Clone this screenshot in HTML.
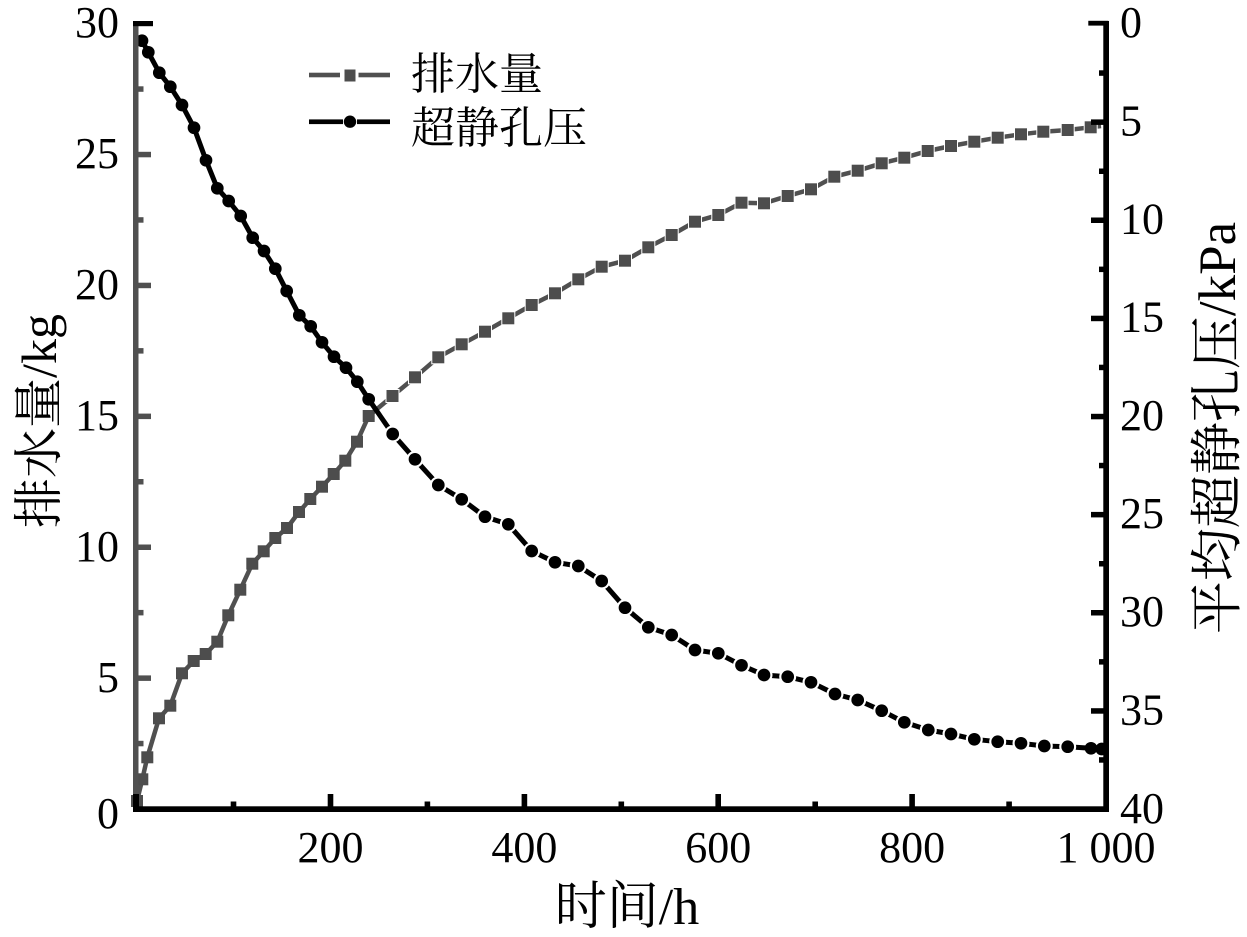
<!DOCTYPE html>
<html>
<head>
<meta charset="utf-8">
<style>
html,body{margin:0;padding:0;background:#fff;}
svg{display:block;}
text{font-family:"Liberation Serif","Noto Serif CJK SC",serif;fill:#000;}
</style>
</head>
<body>
<svg width="1247" height="937" viewBox="0 0 1247 937" xmlns="http://www.w3.org/2000/svg">
<rect width="1247" height="937" fill="#fff"/>

<!-- Gray series: 排水量 -->
<polyline fill="none" stroke="#505050" stroke-width="4.5" stroke-linejoin="round" points="136,806 137,801 142.3,779.3 147.3,757.3 159,718.3 170.3,705.7 182,673.3 193.7,661 205.7,654 217.3,641.7 228.3,615.3 240.3,589.7 252.3,563.7 263.7,551.3 275.3,538 287,528 299,512 310.3,499 322,486.7 333.7,474 345.3,460.7 357,441.7 368.7,416 392.5,396 415,377.3 438.3,357.3 461.7,344.3 485,331.7 508.3,318.3 531.7,305 555,293.3 578.3,279.3 601.7,266.7 625,260.7 648.3,247.3 671.7,235 695,221.7 718.3,215 741.5,202.7 764,203.3 787.7,196 811,189.3 834.3,176.7 857.7,170.7 881.7,163.3 904.3,157.7 927.7,151 951,146 974.3,141.7 997.7,137.7 1021,134.3 1043.3,131.7 1067.7,130 1090.7,127.3 1101,126"/>
<g fill="#fff">
<rect x="385.5" y="389" width="14" height="14"/><rect x="408" y="370.3" width="14" height="14"/><rect x="431.3" y="350.3" width="14" height="14"/><rect x="454.7" y="337.3" width="14" height="14"/><rect x="478" y="324.7" width="14" height="14"/><rect x="501.3" y="311.3" width="14" height="14"/><rect x="524.7" y="298" width="14" height="14"/><rect x="548" y="286.3" width="14" height="14"/><rect x="571.3" y="272.3" width="14" height="14"/><rect x="594.7" y="259.7" width="14" height="14"/><rect x="618" y="253.7" width="14" height="14"/><rect x="641.3" y="240.3" width="14" height="14"/><rect x="664.7" y="228" width="14" height="14"/><rect x="688" y="214.7" width="14" height="14"/><rect x="711.3" y="208" width="14" height="14"/><rect x="734.5" y="195.7" width="14" height="14"/><rect x="757" y="196.3" width="14" height="14"/><rect x="780.7" y="189" width="14" height="14"/><rect x="804" y="182.3" width="14" height="14"/><rect x="827.3" y="169.7" width="14" height="14"/><rect x="850.7" y="163.7" width="14" height="14"/><rect x="874.7" y="156.3" width="14" height="14"/><rect x="897.3" y="150.7" width="14" height="14"/><rect x="920.7" y="144" width="14" height="14"/><rect x="944" y="139" width="14" height="14"/><rect x="967.3" y="134.7" width="14" height="14"/><rect x="990.7" y="130.7" width="14" height="14"/><rect x="1014" y="127.3" width="14" height="14"/><rect x="1036.3" y="124.7" width="14" height="14"/><rect x="1060.7" y="123" width="14" height="14"/><rect x="1083.7" y="120.3" width="14" height="14"/>
</g>
<g fill="#4d4d4d" stroke="#4d4d4d" stroke-width="1">
<rect x="131.5" y="795.5" width="11" height="11"/><rect x="136.8" y="773.8" width="11" height="11"/><rect x="141.8" y="751.8" width="11" height="11"/><rect x="153.5" y="712.8" width="11" height="11"/><rect x="164.8" y="700.2" width="11" height="11"/><rect x="176.5" y="667.8" width="11" height="11"/><rect x="188.2" y="655.5" width="11" height="11"/><rect x="200.2" y="648.5" width="11" height="11"/><rect x="211.8" y="636.2" width="11" height="11"/><rect x="222.8" y="609.8" width="11" height="11"/><rect x="234.8" y="584.2" width="11" height="11"/><rect x="246.8" y="558.2" width="11" height="11"/><rect x="258.2" y="545.8" width="11" height="11"/><rect x="269.8" y="532.5" width="11" height="11"/><rect x="281.5" y="522.5" width="11" height="11"/><rect x="293.5" y="506.5" width="11" height="11"/><rect x="304.8" y="493.5" width="11" height="11"/><rect x="316.5" y="481.2" width="11" height="11"/><rect x="328.2" y="468.5" width="11" height="11"/><rect x="339.8" y="455.2" width="11" height="11"/><rect x="351.5" y="436.2" width="11" height="11"/><rect x="363.2" y="410.5" width="11" height="11"/><rect x="387" y="390.5" width="11" height="11"/><rect x="409.5" y="371.8" width="11" height="11"/><rect x="432.8" y="351.8" width="11" height="11"/><rect x="456.2" y="338.8" width="11" height="11"/><rect x="479.5" y="326.2" width="11" height="11"/><rect x="502.8" y="312.8" width="11" height="11"/><rect x="526.2" y="299.5" width="11" height="11"/><rect x="549.5" y="287.8" width="11" height="11"/><rect x="572.8" y="273.8" width="11" height="11"/><rect x="596.2" y="261.2" width="11" height="11"/><rect x="619.5" y="255.2" width="11" height="11"/><rect x="642.8" y="241.8" width="11" height="11"/><rect x="666.2" y="229.5" width="11" height="11"/><rect x="689.5" y="216.2" width="11" height="11"/><rect x="712.8" y="209.5" width="11" height="11"/><rect x="736" y="197.2" width="11" height="11"/><rect x="758.5" y="197.8" width="11" height="11"/><rect x="782.2" y="190.5" width="11" height="11"/><rect x="805.5" y="183.8" width="11" height="11"/><rect x="828.8" y="171.2" width="11" height="11"/><rect x="852.2" y="165.2" width="11" height="11"/><rect x="876.2" y="157.8" width="11" height="11"/><rect x="898.8" y="152.2" width="11" height="11"/><rect x="922.2" y="145.5" width="11" height="11"/><rect x="945.5" y="140.5" width="11" height="11"/><rect x="968.8" y="136.2" width="11" height="11"/><rect x="992.2" y="132.2" width="11" height="11"/><rect x="1015.5" y="128.8" width="11" height="11"/><rect x="1037.8" y="126.2" width="11" height="11"/><rect x="1062.2" y="124.5" width="11" height="11"/><rect x="1085.2" y="121.8" width="11" height="11"/>
</g>

<!-- Black series: 超静孔压 -->
<polyline fill="none" stroke="#000" stroke-width="5" stroke-linejoin="round" points="142,40.7 148.3,52.3 159.3,72.7 170.3,86.7 182,105 194,127.7 206,160.3 217.3,188.3 228.7,201 240.7,216 252.7,237.7 264,251 275.3,268.7 286.7,291 299.3,315.3 310.7,326.3 322,342.3 334,356.7 346,367.7 357.3,381.7 368.7,399.3 392.7,434 415,459.3 438.3,485 461.7,499.3 485,516.7 508.3,524.3 531.7,551 555,562.3 578.3,566 601.7,581 625,607.7 648.3,627.3 671.7,635 695,650 718.3,653.3 741.5,665.3 764,675 787.7,676.7 811,682.3 835,694 857.7,700 881.7,710.7 904.3,722.3 928.3,730 951,734 974.3,739.3 997.7,741.7 1021,743.3 1044.3,746 1067.7,746.7 1091,748.3 1101.7,749"/>
<g fill="#fff">
<circle cx="392.7" cy="434" r="8.5"/><circle cx="415" cy="459.3" r="8.5"/><circle cx="438.3" cy="485" r="8.5"/><circle cx="461.7" cy="499.3" r="8.5"/><circle cx="485" cy="516.7" r="8.5"/><circle cx="508.3" cy="524.3" r="8.5"/><circle cx="531.7" cy="551" r="8.5"/><circle cx="555" cy="562.3" r="8.5"/><circle cx="578.3" cy="566" r="8.5"/><circle cx="601.7" cy="581" r="8.5"/><circle cx="625" cy="607.7" r="8.5"/><circle cx="648.3" cy="627.3" r="8.5"/><circle cx="671.7" cy="635" r="8.5"/><circle cx="695" cy="650" r="8.5"/><circle cx="718.3" cy="653.3" r="8.5"/><circle cx="741.5" cy="665.3" r="8.5"/><circle cx="764" cy="675" r="8.5"/><circle cx="787.7" cy="676.7" r="8.5"/><circle cx="811" cy="682.3" r="8.5"/><circle cx="835" cy="694" r="8.5"/><circle cx="857.7" cy="700" r="8.5"/><circle cx="881.7" cy="710.7" r="8.5"/><circle cx="904.3" cy="722.3" r="8.5"/><circle cx="928.3" cy="730" r="8.5"/><circle cx="951" cy="734" r="8.5"/><circle cx="974.3" cy="739.3" r="8.5"/><circle cx="997.7" cy="741.7" r="8.5"/><circle cx="1021" cy="743.3" r="8.5"/><circle cx="1044.3" cy="746" r="8.5"/><circle cx="1067.7" cy="746.7" r="8.5"/>
</g>
<g fill="#000" stroke="#000" stroke-width="0.9">
<circle cx="142" cy="40.7" r="5.9"/><circle cx="148.3" cy="52.3" r="5.9"/><circle cx="159.3" cy="72.7" r="5.9"/><circle cx="170.3" cy="86.7" r="5.9"/><circle cx="182" cy="105" r="5.9"/><circle cx="194" cy="127.7" r="5.9"/><circle cx="206" cy="160.3" r="5.9"/><circle cx="217.3" cy="188.3" r="5.9"/><circle cx="228.7" cy="201" r="5.9"/><circle cx="240.7" cy="216" r="5.9"/><circle cx="252.7" cy="237.7" r="5.9"/><circle cx="264" cy="251" r="5.9"/><circle cx="275.3" cy="268.7" r="5.9"/><circle cx="286.7" cy="291" r="5.9"/><circle cx="299.3" cy="315.3" r="5.9"/><circle cx="310.7" cy="326.3" r="5.9"/><circle cx="322" cy="342.3" r="5.9"/><circle cx="334" cy="356.7" r="5.9"/><circle cx="346" cy="367.7" r="5.9"/><circle cx="357.3" cy="381.7" r="5.9"/><circle cx="368.7" cy="399.3" r="5.9"/><circle cx="392.7" cy="434" r="5.9"/><circle cx="415" cy="459.3" r="5.9"/><circle cx="438.3" cy="485" r="5.9"/><circle cx="461.7" cy="499.3" r="5.9"/><circle cx="485" cy="516.7" r="5.9"/><circle cx="508.3" cy="524.3" r="5.9"/><circle cx="531.7" cy="551" r="5.9"/><circle cx="555" cy="562.3" r="5.9"/><circle cx="578.3" cy="566" r="5.9"/><circle cx="601.7" cy="581" r="5.9"/><circle cx="625" cy="607.7" r="5.9"/><circle cx="648.3" cy="627.3" r="5.9"/><circle cx="671.7" cy="635" r="5.9"/><circle cx="695" cy="650" r="5.9"/><circle cx="718.3" cy="653.3" r="5.9"/><circle cx="741.5" cy="665.3" r="5.9"/><circle cx="764" cy="675" r="5.9"/><circle cx="787.7" cy="676.7" r="5.9"/><circle cx="811" cy="682.3" r="5.9"/><circle cx="835" cy="694" r="5.9"/><circle cx="857.7" cy="700" r="5.9"/><circle cx="881.7" cy="710.7" r="5.9"/><circle cx="904.3" cy="722.3" r="5.9"/><circle cx="928.3" cy="730" r="5.9"/><circle cx="951" cy="734" r="5.9"/><circle cx="974.3" cy="739.3" r="5.9"/><circle cx="997.7" cy="741.7" r="5.9"/><circle cx="1021" cy="743.3" r="5.9"/><circle cx="1044.3" cy="746" r="5.9"/><circle cx="1067.7" cy="746.7" r="5.9"/><circle cx="1091" cy="748.3" r="5.9"/><circle cx="1101.7" cy="749" r="5.9"/>
</g>

<!-- Left axis (gray) -->
<g fill="#505050">
<rect x="133" y="21" width="5.5" height="791"/>
<rect x="138" y="675.4" width="13" height="5.5"/>
<rect x="138" y="544.5" width="13" height="5.5"/>
<rect x="138" y="413.6" width="13" height="5.5"/>
<rect x="138" y="282.7" width="13" height="5.5"/>
<rect x="138" y="151.8" width="13" height="5.5"/>
<rect x="138" y="740.8" width="5.5" height="5.5"/>
<rect x="138" y="609.9" width="5.5" height="5.5"/>
<rect x="138" y="479" width="5.5" height="5.5"/>
<rect x="138" y="348.1" width="5.5" height="5.5"/>
<rect x="138" y="217.2" width="5.5" height="5.5"/>
<rect x="138" y="86.3" width="5.5" height="5.5"/>
</g>
<g fill="#000">
<rect x="133" y="21" width="20" height="5.2"/>
<rect x="133" y="794" width="6" height="18"/>
<rect x="133" y="806.3" width="976" height="5.7"/>
<rect x="327.7" y="794" width="5.6" height="14"/>
<rect x="521.6" y="794" width="5.6" height="14"/>
<rect x="715.4" y="794" width="5.6" height="14"/>
<rect x="909.3" y="794" width="5.6" height="14"/>
<rect x="230.7" y="801.5" width="5.6" height="6"/>
<rect x="424.6" y="801.5" width="5.6" height="6"/>
<rect x="618.5" y="801.5" width="5.6" height="6"/>
<rect x="812.4" y="801.5" width="5.6" height="6"/>
<rect x="1006.3" y="801.5" width="5.6" height="6"/>
<rect x="1103.3" y="21" width="5.7" height="791"/>
<rect x="1088.3" y="20.8" width="20" height="4.8"/>
<rect x="1091" y="119.4" width="13" height="5.5"/>
<rect x="1091" y="217.5" width="13" height="5.5"/>
<rect x="1091" y="315.7" width="13" height="5.5"/>
<rect x="1091" y="413.8" width="13" height="5.5"/>
<rect x="1091" y="511.9" width="13" height="5.5"/>
<rect x="1091" y="610" width="13" height="5.5"/>
<rect x="1091" y="708.2" width="13" height="5.5"/>
<rect x="1099" y="70.3" width="5" height="5.5"/>
<rect x="1099" y="168.5" width="5" height="5.5"/>
<rect x="1099" y="266.6" width="5" height="5.5"/>
<rect x="1099" y="364.7" width="5" height="5.5"/>
<rect x="1099" y="462.8" width="5" height="5.5"/>
<rect x="1099" y="561" width="5" height="5.5"/>
<rect x="1099" y="659.1" width="5" height="5.5"/>
<rect x="1099" y="757.2" width="5" height="5.5"/>
</g>

<!-- Left tick labels -->
<g font-size="44" text-anchor="end">
<text x="119" y="37">30</text>
<text x="119" y="168">25</text>
<text x="119" y="299">20</text>
<text x="119" y="430">15</text>
<text x="119" y="561">10</text>
<text x="119" y="692">5</text>
<text x="119" y="828">0</text>
</g>
<!-- Right tick labels -->
<g font-size="44" text-anchor="start">
<text x="1120" y="37">0</text>
<text x="1120" y="135.5">5</text>
<text x="1120" y="233.5">10</text>
<text x="1120" y="331.5">15</text>
<text x="1120" y="430">20</text>
<text x="1120" y="528">25</text>
<text x="1120" y="626">30</text>
<text x="1120" y="724.5">35</text>
<text x="1120" y="823">40</text>
</g>
<!-- X tick labels -->
<g font-size="44" text-anchor="middle">
<text x="330.5" y="862">200</text>
<text x="524.4" y="862">400</text>
<text x="718.2" y="862">600</text>
<text x="912.1" y="862">800</text>
<text x="1106" y="862">1 000</text>
</g>

<!-- Axis titles -->
<text x="627" y="924" font-size="52" text-anchor="middle">时间/h</text>
<text transform="translate(56,421) rotate(-90)" font-size="50" text-anchor="middle">排水量/kg</text>
<text transform="translate(1235,428) rotate(-90)" font-size="53" text-anchor="middle">平均超静孔压/kPa</text>

<!-- Legend -->
<rect x="309" y="72.7" width="31" height="4.6" fill="#505050"/>
<rect x="358.5" y="72.7" width="31.5" height="4.6" fill="#505050"/>
<rect x="344.5" y="69.5" width="11" height="12" fill="#4d4d4d"/>
<rect x="309" y="119.4" width="34" height="4.7" fill="#000"/>
<rect x="357" y="119.4" width="33" height="4.7" fill="#000"/>
<circle cx="350" cy="121.7" r="6.2" fill="#000"/>
<text x="411" y="89" font-size="44">排水量</text>
<text x="411" y="143" font-size="44">超静孔压</text>
</svg>
</body>
</html>
